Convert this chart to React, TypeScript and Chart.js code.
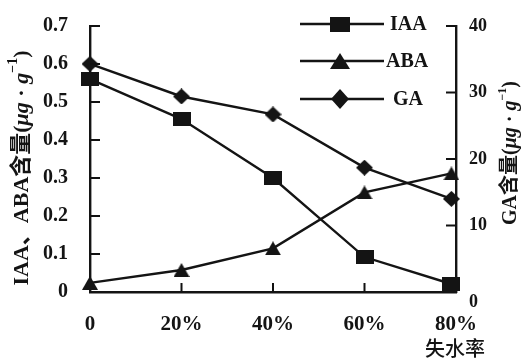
import React, { useEffect, useRef } from 'react';
import { Chart, registerables } from 'chart.js';

Chart.register(...registerables);

// ---- data ----
const lossRates = [0, 20, 40, 60, 79];
const iaaValues = [0.56, 0.455, 0.3, 0.092, 0.021];
const abaValues = [0.024, 0.058, 0.115, 0.262, 0.312];
const gaValues = [34.3, 29.4, 26.7, 18.7, 14.0];
const seriesNames = ['IAA', 'ABA', 'GA'];
const xTickValues = [20, 40, 60];
const leftTickValues = [0.1, 0.2, 0.3, 0.4, 0.5, 0.6, 0.7];
const rightTickValues = [10, 20, 30, 40];
const xAxisName = '失水率';
const leftAxisName = 'IAA、ABA含量';
const rightAxisName = 'GA含量';

const INK = '#141414';
const LATIN = "'Liberation Serif', 'Noto Sans CJK SC', serif";

function makeMarker(kind: string, w: number, h: number): HTMLCanvasElement {
  const c = document.createElement('canvas');
  c.width = w;
  c.height = h;
  const ctx = c.getContext('2d')!;
  ctx.fillStyle = INK;
  ctx.beginPath();
  if (kind === 'square') {
    ctx.rect(0, 0, w, h);
  } else if (kind === 'triangle') {
    ctx.moveTo(w / 2, 0);
    ctx.lineTo(w, h);
    ctx.lineTo(0, h);
    ctx.closePath();
  } else {
    ctx.moveTo(w / 2, 0);
    ctx.lineTo(w, h / 2);
    ctx.lineTo(w / 2, h);
    ctx.lineTo(0, h / 2);
    ctx.closePath();
  }
  ctx.fill();
  return c;
}

type Run = { text: string; font: string; dy?: number };

function drawRuns(ctx: CanvasRenderingContext2D, runs: Run[], cx: number, cy: number, rot: number) {
  ctx.save();
  ctx.translate(cx, cy);
  ctx.rotate(rot);
  let total = 0;
  for (const r of runs) {
    ctx.font = r.font;
    total += ctx.measureText(r.text).width;
  }
  let x = -total / 2;
  ctx.textBaseline = 'middle';
  ctx.textAlign = 'left';
  ctx.fillStyle = INK;
  for (const r of runs) {
    ctx.font = r.font;
    ctx.fillText(r.text, x, r.dy || 0);
    x += ctx.measureText(r.text).width;
  }
  ctx.restore();
}

function unitRuns(size: number): Run[] {
  return [
    { text: '(', font: `bold ${size}px ${LATIN}` },
    { text: 'μg', font: `italic bold ${size}px ${LATIN}` },
    { text: ' · ', font: `bold ${size}px ${LATIN}` },
    { text: 'g', font: `italic bold ${size}px ${LATIN}` },
    { text: '−1', font: `bold ${Math.round(size * 0.62)}px ${LATIN}`, dy: -size * 0.38 },
    { text: ')', font: `bold ${size}px ${LATIN}` },
  ];
}

// inward tick marks, positioned through the chart's own scales
const tickMarks = {
  id: 'tickMarks',
  afterDraw(chart: any) {
    const ctx = chart.ctx;
    const sy = chart.scales.y;
    const sy1 = chart.scales.y1;
    const sx = chart.scales.x;
    ctx.save();
    ctx.globalAlpha = 1;
    ctx.globalCompositeOperation = 'source-over';
    ctx.setLineDash([]);
    ctx.strokeStyle = '#111111';
    ctx.lineWidth = 2;
    for (const v of leftTickValues) {
      const p = sy.getPixelForValue(v);
      ctx.beginPath();
      ctx.moveTo(sy.right, p);
      ctx.lineTo(sy.right + 10, p);
      ctx.stroke();
    }
    for (const v of rightTickValues) {
      const p = sy1.getPixelForValue(v);
      ctx.beginPath();
      ctx.moveTo(sy1.left, p);
      ctx.lineTo(sy1.left - 10, p);
      ctx.stroke();
    }
    for (const v of xTickValues) {
      const p = sx.getPixelForValue(v);
      ctx.beginPath();
      ctx.moveTo(p, sx.top);
      ctx.lineTo(p, sx.top - 9);
      ctx.stroke();
    }
    ctx.restore();
  },
};

export default function App() {
  const ref = useRef<HTMLCanvasElement | null>(null);

  useEffect(() => {
    if (!ref.current) return;
    const markers = [
      makeMarker('square', 18, 14),
      makeMarker('triangle', 16, 14),
      makeMarker('diamond', 17, 16),
    ];
    const legendMarkers = [
      makeMarker('square', 20, 15),
      makeMarker('triangle', 20, 16),
      makeMarker('diamond', 18, 20),
    ];

    const decor = {
      id: 'decor',
      afterDraw(chart: any) {
        const ctx: CanvasRenderingContext2D = chart.ctx;
        // legend
        const ys = [24, 61, 99];
        chart.data.datasets.forEach((ds: any, i: number) => {
          const y = ys[i];
          ctx.save();
          ctx.strokeStyle = INK;
          ctx.lineWidth = 2.4;
          ctx.beginPath();
          ctx.moveTo(300, y);
          ctx.lineTo(384, y);
          ctx.stroke();
          const m = legendMarkers[i];
          ctx.drawImage(m, 340 - m.width / 2, y - m.height / 2);
          ctx.fillStyle = INK;
          ctx.font = `bold 20px ${LATIN}`;
          ctx.textBaseline = 'middle';
          ctx.textAlign = 'left';
          ctx.fillText(ds.label, i === 1 ? 386 : i === 0 ? 390 : 393, y + 1);
          ctx.restore();
        });
        // axis titles
        drawRuns(ctx, [{ text: leftAxisName, font: `bold 22px ${LATIN}` }, ...unitRuns(22)], 22, 168, -Math.PI / 2);
        drawRuns(ctx, [{ text: rightAxisName, font: `bold 20px ${LATIN}` }, ...unitRuns(20)], 511, 153, -Math.PI / 2);
        ctx.save();
        ctx.fillStyle = INK;
        ctx.font = "500 20px 'Noto Sans CJK SC'";
        ctx.textAlign = 'center';
        ctx.textBaseline = 'middle';
        ctx.fillText(xAxisName, 455, 348);
        ctx.restore();
      },
    };

    const mk = (label: string, values: number[], axis: string, i: number) => ({
      label,
      data: lossRates.map((x, k) => ({ x, y: values[k] })),
      yAxisID: axis,
      borderColor: INK,
      backgroundColor: INK,
      borderWidth: 2.4,
      pointStyle: markers[i],
      pointRadius: 8,
      tension: 0,
      clip: false,
    });

    const chart = new Chart(ref.current, {
      type: 'line',
      data: {
        datasets: [
          mk(seriesNames[0], iaaValues, 'y', 0),
          mk(seriesNames[1], abaValues, 'y', 1),
          mk(seriesNames[2], gaValues, 'y1', 2),
        ],
      },
      plugins: [decor, tickMarks],
      options: {
        responsive: false,
        animation: false,
        layout: { padding: { top: 24, left: 0, right: 0, bottom: 0 } },
        plugins: { legend: { display: false }, tooltip: { enabled: false } },
        scales: {
          x: {
            type: 'linear',
            min: 0,
            max: 80,
            afterFit: (s: any) => {
              s.height = 69;
            },
            grid: { display: false },
            border: { display: true, color: INK, width: 2.4 },
            ticks: {
              stepSize: 20,
              color: INK,
              padding: 12,
              font: { family: LATIN, size: 21, weight: 'bold' },
              callback: (v: any) => (v === 0 ? '0' : `${v}%`),
            },
          },
          y: {
            position: 'left',
            min: 0,
            max: 0.7,
            afterFit: (s: any) => {
              s.width = 90;
            },
            grid: { display: false },
            border: { display: true, color: INK, width: 2.4 },
            ticks: {
              stepSize: 0.1,
              color: INK,
              padding: 14,
              font: { family: LATIN, size: 20, weight: 'bold' },
              callback: (v: any) => (v === 0 ? '0' : Number(v).toFixed(1)),
            },
          },
          y1: {
            position: 'right',
            min: 0,
            max: 40,
            afterFit: (s: any) => {
              s.width = 70;
            },
            grid: { display: false },
            border: { display: true, color: INK, width: 2.4 },
            ticks: {
              stepSize: 10,
              color: INK,
              padding: 5,
              font: { family: LATIN, size: 18, weight: 'bold' },
              callback: (v: any) => (v === 0 ? ['', '0'] : String(v)),
            },
          },
        },
      } as any,
    });
    return () => chart.destroy();
  }, []);

  return (
    <div style={{ position: 'absolute', left: 0, top: 0, width: 526, height: 361, background: '#fff' }}>
      <canvas ref={ref} width={526} height={361} />
    </div>
  );
}
